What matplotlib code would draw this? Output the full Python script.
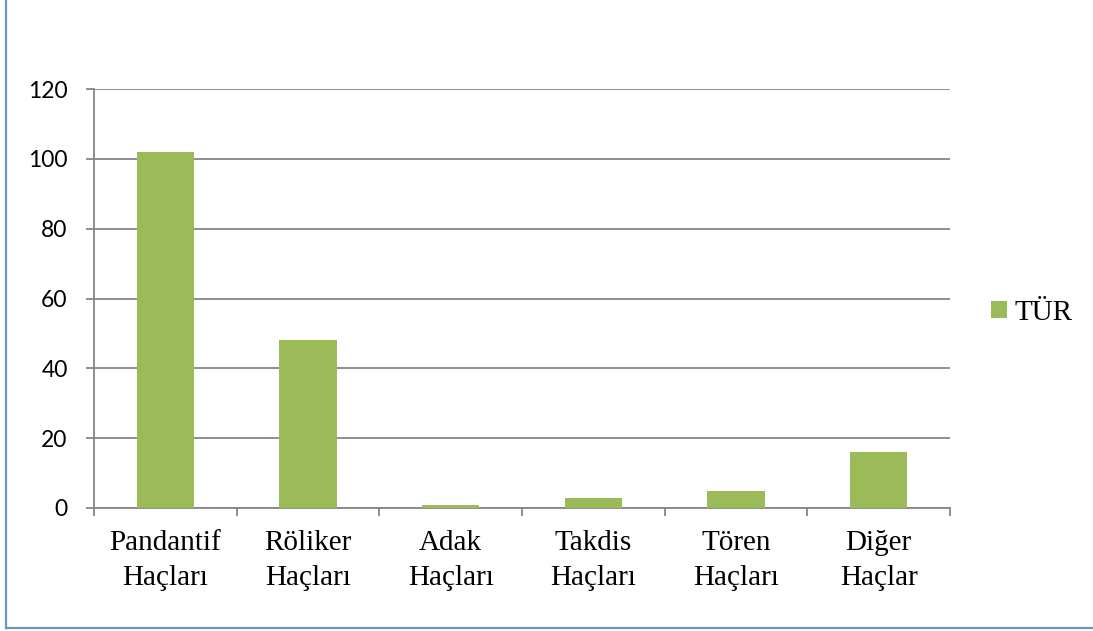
import matplotlib
matplotlib.use("Agg")
import matplotlib.pyplot as plt
from matplotlib.lines import Line2D
from matplotlib.patches import Patch

categories = ["Pandantif\nHaçları", "Röliker\nHaçları", "Adak\nHaçları",
              "Takdis\nHaçları", "Tören\nHaçları", "Diğer\nHaçlar"]
values = [102, 48, 1, 3, 5, 16]
series_name = "TÜR"
y_ticks = [0, 20, 40, 60, 80, 100, 120]

bar_color = "#9BBB59"
grid_color = "#868686"
frame_color = "#6A93CF"

fig = plt.figure(figsize=(10.93, 6.31), dpi=100)
ax = fig.add_axes([94 / 1093, 1 - 508 / 631, (950 - 94) / 1093, (508 - 89) / 631])

x = list(range(len(categories)))
ax.bar(x, values, width=0.4, color=bar_color, zorder=3)

ax.set_xlim(-0.5, len(categories) - 0.5)
ax.set_ylim(0, 120)
ax.set_yticks(y_ticks)
ax.set_yticklabels([str(v) for v in y_ticks], family="Lato", fontsize=16.5)
ax.yaxis.grid(True, color=grid_color, linewidth=1.3, zorder=0)

# category boundaries carry the tick marks; labels sit at bar centres
ax.set_xticks([i - 0.5 for i in range(len(categories) + 1)])
ax.set_xticklabels([])
ax.set_xticks(x, minor=True)
ax.set_xticklabels(categories, minor=True, family="Liberation Serif",
                   fontsize=21, linespacing=1.42)
ax.tick_params(axis="x", which="major", length=6, width=1.3, color=grid_color,
               direction="out")
ax.tick_params(axis="x", which="minor", length=0, pad=16)
ax.tick_params(axis="y", length=6, width=1.3, color=grid_color, pad=13)

for side in ("top", "right"):
    ax.spines[side].set_visible(False)
for side in ("left", "bottom"):
    ax.spines[side].set_color(grid_color)
    ax.spines[side].set_linewidth(1.3)

handle = Patch(facecolor=bar_color, edgecolor="none")
fig.legend([handle], [series_name], loc="center left",
           bbox_to_anchor=(991 / 1093, 1 - 313 / 631), frameon=False,
           prop={"family": "Liberation Serif", "size": 21},
           handlelength=0.55, handleheight=0.55, handletextpad=0.25,
           borderpad=0, borderaxespad=0)

# chart-area frame on the left and bottom
fig.add_artist(Line2D([5.5 / 1093, 5.5 / 1093], [1, 1 - 628 / 631],
                      transform=fig.transFigure, color=frame_color, linewidth=1.6))
fig.add_artist(Line2D([5.5 / 1093, 1], [1 - 628 / 631, 1 - 628 / 631],
                      transform=fig.transFigure, color=frame_color, linewidth=1.6))

fig.savefig("out.png", dpi=100, facecolor="white")
